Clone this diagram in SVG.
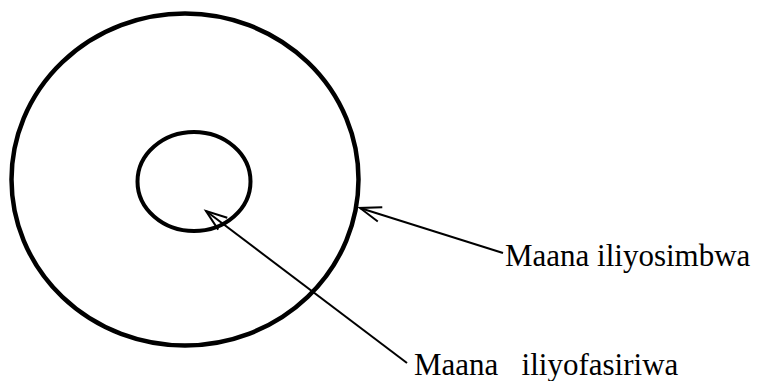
<svg xmlns="http://www.w3.org/2000/svg" width="759" height="381" viewBox="0 0 759 381">
<style>
.ring{fill:none;stroke:#000;stroke-width:4.5}
.conn{fill:none;stroke:#000;stroke-width:2}
.lbl{font-family:"Liberation Serif","Times New Roman",serif;font-size:31px;fill:#000}
</style>
<defs>
<marker id="arr" markerUnits="userSpaceOnUse" viewBox="-22 -10 24 20" refX="0" refY="0" markerWidth="24" markerHeight="20" orient="auto" overflow="visible">
<path d="M-21,-7.5 L0,0 L-21,7.5" fill="none" stroke="#000" stroke-width="2"/>
</marker>
</defs>
<rect width="759" height="381" fill="#fff"/>
<g id="outer"><ellipse class="ring" cx="185" cy="179.5" rx="173.5" ry="166"/></g>
<g id="inner"><ellipse class="ring" cx="194" cy="181.5" rx="56.5" ry="49.5" style="stroke-width:4"/></g>
<g id="connectors">
<line class="conn" x1="503" y1="253" x2="360" y2="208" marker-end="url(#arr)"/>
<line class="conn" x1="407" y1="363" x2="206" y2="211" marker-end="url(#arr)"/>
</g>
<g id="label1"><text class="lbl" x="505" y="266">Maana iliyosimbwa</text></g>
<g id="label2"><text class="lbl" x="414" y="375" xml:space="preserve">Maana   iliyofasiriwa</text></g>
</svg>
